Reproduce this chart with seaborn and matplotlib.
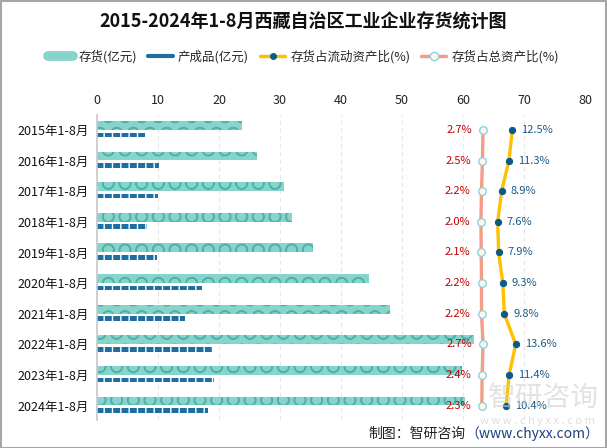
import matplotlib
matplotlib.use('Agg')
import matplotlib.pyplot as plt
import seaborn as sns
import pandas as pd
import numpy as np
from matplotlib.lines import Line2D
from matplotlib.patches import Rectangle

# data
periods = ['2015年1-8月', '2016年1-8月', '2017年1-8月', '2018年1-8月', '2019年1-8月',
           '2020年1-8月', '2021年1-8月', '2022年1-8月', '2023年1-8月', '2024年1-8月']
inventory = [23.7, 26.3, 30.7, 32.0, 35.4, 44.6, 48.0, 61.8, 59.8, 60.3]      # 存货(亿元)
finished = [7.8, 10.2, 10.0, 8.2, 9.8, 17.2, 14.4, 18.8, 19.2, 18.2]          # 产成品(亿元)
ratio_current = [12.5, 11.3, 8.9, 7.6, 7.9, 9.3, 9.8, 13.6, 11.4, 10.4]       # 存货占流动资产比(%)
ratio_total = [2.7, 2.5, 2.2, 2.0, 2.1, 2.2, 2.2, 2.7, 2.4, 2.3]              # 存货占总资产比(%)

TEAL = '#86d4cb'
TEAL_DARK = '#4fb2a7'
BLUE = '#1f6ea0'
YELLOW = '#ffc000'
SALMON = '#f29d86'
DOT = '#0b5a8a'

sns.set_theme(style='white')
plt.rcParams['font.family'] = ['Noto Sans CJK SC', 'DejaVu Sans']
plt.rcParams['hatch.linewidth'] = 1.0
plt.rcParams['axes.unicode_minus'] = False

df = pd.DataFrame({'period': periods, 'inventory': inventory, 'finished': finished,
                   'ratio_current': ratio_current, 'ratio_total': ratio_total})
df['pos'] = np.arange(len(df))

fig = plt.figure(figsize=(6.07, 4.48), dpi=100)
ax = fig.add_axes([97 / 607, 1 - 420 / 448, 488 / 607, 305 / 448])

# ratio lines on a hidden secondary axis
ax2 = ax.twiny()

# pictorial-ish bars
ax.barh(df['pos'] - 0.15, df['inventory'], height=0.29, color=TEAL,
        edgecolor=TEAL_DARK, linewidth=0, hatch='O', zorder=2)
ax.barh(df['pos'] + 0.16, df['finished'], height=0.15, color=BLUE,
        edgecolor='white', linewidth=0, hatch='||', zorder=2)

ax.set_xlim(0, 80)
ax.set_ylim(9.47, -0.49)
ax.set_xticks(range(0, 81, 10))
ax.set_yticks(df['pos'])
ax.set_yticklabels(df['period'])
ax.xaxis.set_ticks_position('top')
ax.xaxis.set_label_position('top')
ax.tick_params(axis='x', length=0, pad=6, labelsize=9, colors='#222222',
               labeltop=True, labelbottom=False)
ax.tick_params(axis='y', length=0, pad=6, labelsize=9, colors='#111111')
for s in ['top', 'right', 'bottom']:
    ax.spines[s].set_visible(False)
ax.spines['left'].set_color('#c8c8c8')
ax.spines['left'].set_linewidth(1.2)
ax.grid(True, axis='x', color='#e6e6e6', linestyle=(0, (4, 3)), linewidth=0.8)
ax.set_axisbelow(True)
ax.set_xlabel('')
ax.set_ylabel('')

ax2.set_xlim(-126, 36.7)
ax2.set_ylim(9.47, -0.49)
ax2.axis('off')

sns.lineplot(data=df, x='ratio_total', y='pos', orient='y', sort=False, ax=ax2,
             color=SALMON, linewidth=2.4, marker='o', markersize=5.5,
             markerfacecolor='#fdf8e4', markeredgecolor='#8fd0ea', markeredgewidth=1.0,
             zorder=4, legend=False)
sns.lineplot(data=df, x='ratio_current', y='pos', orient='y', sort=False, ax=ax2,
             color=YELLOW, linewidth=2.4, marker='o', markersize=4.5,
             markerfacecolor=DOT, markeredgecolor=DOT, zorder=5, legend=False)
ax2.set_xlabel('')
ax2.set_ylabel('')

for _, r in df.iterrows():
    ax2.annotate(f"{r['ratio_total']:.1f}%", (r['ratio_total'], r['pos']),
                 xytext=(-8, 0), textcoords='offset points', ha='right', va='center',
                 fontsize=8, color='#c00000', zorder=6)
    ax2.annotate(f"{r['ratio_current']:.1f}%", (r['ratio_current'], r['pos']),
                 xytext=(6.5, 0), textcoords='offset points', ha='left', va='center',
                 fontsize=8, color='#1a5a86', zorder=6)

# title and legend
fig.text(0.5, 1 - 22 / 448, '2015-2024年1-8月西藏自治区工业企业存货统计图',
         ha='center', va='center', fontsize=13, fontweight='bold', color='#111111')

handles = [
    Line2D([], [], color=TEAL, linewidth=7, solid_capstyle='round'),
    Line2D([], [], color=BLUE, linewidth=3),
    Line2D([], [], color=YELLOW, linewidth=2.5, marker='o', markersize=4,
           markerfacecolor=DOT, markeredgecolor=DOT),
    Line2D([], [], color=SALMON, linewidth=2.5, marker='o', markersize=6,
           markerfacecolor='#fdf8e4', markeredgecolor='#8fd0ea'),
]
labels = ['存货(亿元)', '产成品(亿元)', '存货占流动资产比(%)', '存货占总资产比(%)']
fig.legend(handles, labels, loc='center', bbox_to_anchor=(0.5, 1 - 57 / 448), ncol=4,
           frameon=False, fontsize=9, handlelength=2.0, handletextpad=0.4,
           columnspacing=0.9)

# watermark
fig.text(0.895, 1 - 398 / 448, '智研咨询', ha='center', va='center', fontsize=20,
         color='#d0d0d0', alpha=0.6, zorder=0)
fig.text(0.885, 1 - 421 / 448, 'w w w . c h y x x . c o m', ha='center', va='center',
         fontsize=8, color='#d0d0d0', alpha=0.7)

# footer
t2 = fig.text(0.988, 1 - 434 / 448, '（www.chyxx.com）', ha='right', va='center',
              fontsize=10, color='#1f3f7f')
fig.canvas.draw()
bb = t2.get_window_extent()
fig.text(bb.x0 / fig.bbox.width, 1 - 434 / 448, '制图：智研咨询', ha='right', va='center',
         fontsize=10, color='#222222')

# outer frame
fig.patches.append(Rectangle((0.001, 0.001), 0.997, 0.997, transform=fig.transFigure,
                             fill=False, edgecolor='#a6a6a6', linewidth=1.5))

fig.savefig('out.png', dpi=100)
